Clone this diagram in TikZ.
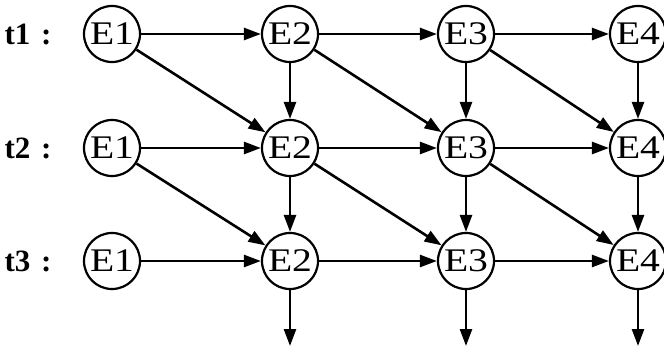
\documentclass[tikz,border=0pt]{standalone}
\usepackage{fontspec}
\setmainfont{Liberation Serif}
\usetikzlibrary{arrows.meta}
\begin{document}
\begin{tikzpicture}[x=1pt,y=-1pt,
  ev/.style={circle,draw,line width=2.2pt,minimum size=56pt,inner sep=0pt,font=\fontsize{33}{33}\selectfont},
  tlab/.style={font=\fontsize{31}{31}\selectfont\bfseries,anchor=center},
  arr/.style={line width=2.6pt,-{Triangle[length=17pt,width=12pt]}}]
\useasboundingbox (0,0) rectangle (664,348);
\foreach \r/\y in {1/34,2/148,3/261}{
  \node[tlab] (t\r) at (28,\y) {t\r\hspace{0.35em}:};
  \node[ev] (a\r) at (112,\y) {\scalebox{1.2}[1]{E1}};
  \node[ev] (b\r) at (290,\y) {\scalebox{1.2}[1]{E2}};
  \node[ev] (c\r) at (466,\y) {\scalebox{1.2}[1]{E3}};
  \node[ev] (d\r) at (638,\y) {\scalebox{1.2}[1]{E4}};
  \draw[arr] (a\r) -- (b\r);
  \draw[arr] (b\r) -- (c\r);
  \draw[arr] (c\r) -- (d\r);
}
\foreach \r/\s in {1/2,2/3}{
  \draw[arr] (a\r) -- (b\s);
  \draw[arr] (b\r) -- (c\s);
  \draw[arr] (c\r) -- (d\s);
  \draw[arr] (b\r) -- (b\s);
  \draw[arr] (c\r) -- (c\s);
  \draw[arr] (d\r) -- (d\s);
}
\coordinate (bo) at (290,346);
\coordinate (co) at (466,346);
\coordinate (do) at (638,346);
\draw[arr] (b3) -- (bo);
\draw[arr] (c3) -- (co);
\draw[arr] (d3) -- (do);
\end{tikzpicture}
\end{document}
